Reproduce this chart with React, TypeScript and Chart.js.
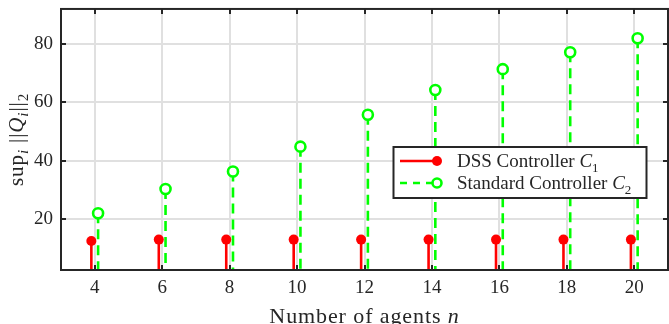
import React, { useEffect, useRef } from "react";
import { Chart, registerables } from "chart.js";

Chart.register(...registerables);

const agents = [4, 6, 8, 10, 12, 14, 16, 18, 20];
const dssValues = [12.6, 13.1, 13.1, 13.1, 13.1, 13.1, 13.1, 13.1, 13.1];
const standardValues = [22.1, 30.4, 36.4, 44.9, 55.8, 64.3, 71.4, 77.2, 82.0];
const xTicks = [4, 6, 8, 10, 12, 14, 16, 18, 20];
const yTicks = [20, 40, 60, 80];
const seriesOffset = 0.1;

const W = 669;
const H = 324;
const FONT = "'Liberation Serif', 'DejaVu Serif', serif";
const RED = "#ff0000";
const GREEN = "#00ff00";
const FRAME = "#262626";

type Seg = { t: string; italic?: boolean; sub?: boolean };

function drawSegs(
  ctx: CanvasRenderingContext2D,
  segs: Seg[],
  x: number,
  y: number,
  size: number,
  align: "left" | "center",
  spacing = 0
) {
  const fontFor = (s: Seg) => `${s.italic ? "italic " : ""}${s.sub ? Math.round(size * 0.7) : size}px ${FONT}`;
  (ctx as any).letterSpacing = `${spacing}px`;
  let total = 0;
  for (const s of segs) {
    ctx.font = fontFor(s);
    total += ctx.measureText(s.t).width;
  }
  let cx = align === "center" ? x - total / 2 : x;
  ctx.textBaseline = "alphabetic";
  ctx.textAlign = "left";
  for (const s of segs) {
    ctx.font = fontFor(s);
    ctx.fillText(s.t, cx, s.sub ? y + size * 0.25 : y);
    cx += ctx.measureText(s.t).width;
  }
  (ctx as any).letterSpacing = "0px";
}

const decorPlugin = {
  id: "decor",
  beforeDatasetsDraw(chart: any) {
    const { ctx, chartArea, scales } = chart;
    const base = scales.y.getPixelForValue(0);
    ctx.save();
    ctx.beginPath();
    ctx.rect(chartArea.left, chartArea.top, chartArea.right - chartArea.left, chartArea.bottom - chartArea.top);
    ctx.clip();
    chart.data.datasets.forEach((ds: any, i: number) => {
      const meta = chart.getDatasetMeta(i);
      ctx.strokeStyle = ds.borderColor;
      ctx.lineWidth = 2.6;
      ctx.setLineDash(i === 0 ? [] : [10, 6]);
      meta.data.forEach((pt: any) => {
        ctx.beginPath();
        ctx.moveTo(pt.x, pt.y);
        ctx.lineTo(pt.x, base);
        ctx.stroke();
      });
    });
    ctx.restore();
  },
  afterDraw(chart: any) {
    const { ctx, chartArea, scales } = chart;
    const { left, right, top, bottom } = chartArea;
    ctx.save();
    ctx.strokeStyle = FRAME;
    ctx.lineWidth = 2;
    ctx.setLineDash([]);
    const tl = 5;
    xTicks.forEach((v) => {
      const px = Math.round(scales.x.getPixelForValue(v));
      ctx.beginPath();
      ctx.moveTo(px, bottom);
      ctx.lineTo(px, bottom - tl);
      ctx.moveTo(px, top);
      ctx.lineTo(px, top + tl);
      ctx.stroke();
    });
    yTicks.forEach((v) => {
      const py = Math.round(scales.y.getPixelForValue(v));
      ctx.beginPath();
      ctx.moveTo(left, py);
      ctx.lineTo(left + tl, py);
      ctx.moveTo(right, py);
      ctx.lineTo(right - tl, py);
      ctx.stroke();
    });
    ctx.strokeRect(left, top, right - left, bottom - top);

    // legend
    const lx = 393.5, ly = 147, lw = 253, lh = 51;
    ctx.fillStyle = "#ffffff";
    ctx.fillRect(lx, ly, lw, lh);
    ctx.strokeStyle = FRAME;
    ctx.lineWidth = 2;
    ctx.strokeRect(lx, ly, lw, lh);
    const rows = [
      { y: 161, color: RED, dash: [] as number[], filled: true, segs: [{ t: "DSS Controller " }, { t: "C", italic: true }, { t: "1", sub: true }] },
      { y: 183, color: GREEN, dash: [7, 6], filled: false, segs: [{ t: "Standard Controller " }, { t: "C", italic: true }, { t: "2", sub: true }] },
    ];
    rows.forEach((r) => {
      ctx.strokeStyle = r.color;
      ctx.lineWidth = 2.6;
      ctx.setLineDash(r.dash);
      ctx.beginPath();
      ctx.moveTo(400, r.y);
      ctx.lineTo(437, r.y);
      ctx.stroke();
      ctx.setLineDash([]);
      ctx.beginPath();
      if (r.filled) {
        ctx.fillStyle = r.color;
        ctx.arc(437, r.y, 5, 0, Math.PI * 2);
        ctx.fill();
      } else {
        ctx.fillStyle = "#ffffff";
        ctx.arc(437, r.y, 4.5, 0, Math.PI * 2);
        ctx.fill();
        ctx.lineWidth = 2.6;
        ctx.stroke();
      }
      ctx.fillStyle = "#262626";
      drawSegs(ctx, r.segs, 457, r.y + 6, 19, "left");
    });

    // x title
    ctx.fillStyle = "#262626";
    drawSegs(ctx, [{ t: "Number of agents " }, { t: "n", italic: true }], (left + right) / 2, 323, 22, "center", 0.9);

    // y title
    ctx.save();
    ctx.translate(23, (top + bottom) / 2);
    ctx.rotate(-Math.PI / 2);
    drawSegs(
      ctx,
      [
        { t: "sup" },
        { t: "i", italic: true, sub: true },
        { t: " ||" },
        { t: "Q", italic: true },
        { t: "i", italic: true, sub: true },
        { t: "||" },
        { t: "2", sub: true },
      ],
      0,
      0,
      21,
      "center",
      0.9
    );
    ctx.restore();
    ctx.restore();
  },
};

export default function App() {
  const ref = useRef<HTMLCanvasElement | null>(null);
  useEffect(() => {
    document.body.style.margin = "0";
    const canvas = ref.current!;
    const chart = new Chart(canvas, {
      type: "scatter",
      data: {
        datasets: [
          {
            label: "DSS Controller C1",
            data: agents.map((n, i) => ({ x: n - seriesOffset, y: dssValues[i] })),
            borderColor: RED,
            backgroundColor: RED,
            pointRadius: 5,
            pointBorderWidth: 0,
            showLine: false,
          },
          {
            label: "Standard Controller C2",
            data: agents.map((n, i) => ({ x: n + seriesOffset, y: standardValues[i] })),
            borderColor: GREEN,
            backgroundColor: "#ffffff",
            pointRadius: 5,
            pointBorderWidth: 2.6,
            showLine: false,
          },
        ],
      },
      options: {
        responsive: false,
        animation: false,
        devicePixelRatio: 1,
        layout: { autoPadding: false, padding: { top: 5, right: 1, left: 0, bottom: 0 } },
        plugins: { legend: { display: false }, tooltip: { enabled: false } },
        scales: {
          x: {
            type: "linear",
            min: 3,
            max: 21,
            afterBuildTicks: (s: any) => {
              s.ticks = xTicks.map((v) => ({ value: v }));
            },
            afterFit: (s: any) => {
              s.height = 54;
            },
            grid: { color: "#e0e0e0", lineWidth: 2, drawTicks: false },
            border: { display: false },
            ticks: { color: "#262626", font: { family: FONT, size: 19 }, padding: 7, maxRotation: 0 },
          },
          y: {
            type: "linear",
            min: 2.7,
            max: 92,
            afterBuildTicks: (s: any) => {
              s.ticks = yTicks.map((v) => ({ value: v }));
            },
            afterFit: (s: any) => {
              s.width = 61;
            },
            grid: { color: "#e0e0e0", lineWidth: 2, drawTicks: false },
            border: { display: false },
            ticks: { color: "#262626", font: { family: FONT, size: 19, lineHeight: 0.1 }, padding: 8 },
          },
        },
      },
      plugins: [decorPlugin],
    } as any);
    return () => chart.destroy();
  }, []);
  return <canvas ref={ref} width={W} height={H} style={{ display: "block", width: W, height: H }} />;
}
